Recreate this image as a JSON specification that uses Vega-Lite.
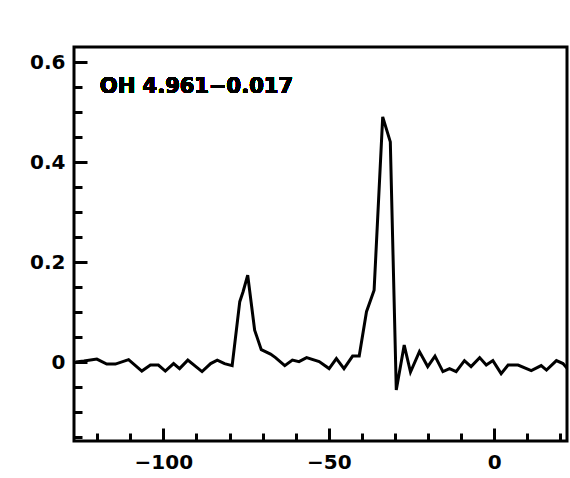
{
  "$schema": "https://vega.github.io/schema/vega-lite/v6.json",
  "autosize": {"type": "none"},
  "padding": {"left": 74, "top": 47, "right": 3, "bottom": 37},
  "width": 493,
  "height": 394,
  "background": "white",
  "view": {"stroke": "black", "strokeWidth": 3},
  "config": {
    "axis": {
      "grid": false,
      "domain": false,
      "tickColor": "black",
      "tickWidth": 3,
      "labelFont": "DejaVu Sans",
      "labelFontWeight": "bold",
      "labelFontSize": 20,
      "labelColor": "black",
      "title": null
    }
  },
  "data": {
    "values": [
      {"v": -126.5, "t": 0.0},
      {"v": -124, "t": 0.002},
      {"v": -120.1, "t": 0.006},
      {"v": -117.1, "t": -0.004},
      {"v": -114.5, "t": -0.004},
      {"v": -110.5, "t": 0.005},
      {"v": -106.5, "t": -0.018},
      {"v": -103.9, "t": -0.006},
      {"v": -101.5, "t": -0.006},
      {"v": -99.4, "t": -0.018},
      {"v": -96.9, "t": -0.003},
      {"v": -95.1, "t": -0.013},
      {"v": -92.6, "t": 0.004},
      {"v": -88.3, "t": -0.019},
      {"v": -85.7, "t": -0.003},
      {"v": -83.7, "t": 0.004},
      {"v": -81.5, "t": -0.003},
      {"v": -79.2, "t": -0.007},
      {"v": -76.9, "t": 0.121},
      {"v": -75.9, "t": 0.141},
      {"v": -74.5, "t": 0.174},
      {"v": -72.4, "t": 0.064},
      {"v": -70.4, "t": 0.025},
      {"v": -67.6, "t": 0.016},
      {"v": -66.1, "t": 0.009},
      {"v": -63.3, "t": -0.007},
      {"v": -61, "t": 0.004},
      {"v": -59, "t": 0.001},
      {"v": -56.7, "t": 0.009},
      {"v": -52.9, "t": 0.001},
      {"v": -49.9, "t": -0.013},
      {"v": -47.7, "t": 0.007},
      {"v": -45.4, "t": -0.013},
      {"v": -42.8, "t": 0.012},
      {"v": -40.8, "t": 0.012},
      {"v": -38.6, "t": 0.101},
      {"v": -36.3, "t": 0.144},
      {"v": -33.7, "t": 0.491},
      {"v": -31.4, "t": 0.441},
      {"v": -29.6, "t": -0.056},
      {"v": -27.2, "t": 0.034},
      {"v": -25.3, "t": -0.02},
      {"v": -22.6, "t": 0.021},
      {"v": -20.1, "t": -0.009},
      {"v": -17.9, "t": 0.012},
      {"v": -15.5, "t": -0.019},
      {"v": -13.5, "t": -0.013},
      {"v": -11.5, "t": -0.019},
      {"v": -9, "t": 0.003},
      {"v": -7, "t": -0.009},
      {"v": -4.4, "t": 0.009},
      {"v": -2.4, "t": -0.006},
      {"v": -0.4, "t": 0.003},
      {"v": 2.1, "t": -0.023},
      {"v": 4.2, "t": -0.006},
      {"v": 7.2, "t": -0.006},
      {"v": 11.2, "t": -0.017},
      {"v": 14.2, "t": -0.007},
      {"v": 15.8, "t": -0.016},
      {"v": 18.8, "t": 0.003},
      {"v": 20.8, "t": -0.003},
      {"v": 22.5, "t": -0.016}
    ]
  },
  "layer": [
    {
      "mark": {"type": "line", "color": "black", "strokeWidth": 3, "clip": true},
      "encoding": {
        "x": {
          "field": "v", "type": "quantitative",
          "scale": {"domain": [-127, 22], "nice": false, "zero": false},
          "axis": {"orient": "bottom", "values": [-100, -50, 0], "tickSize": -13, "labelPadding": 24, "format": "d"}
        },
        "y": {
          "field": "t", "type": "quantitative",
          "scale": {"domain": [-0.158, 0.631], "nice": false, "zero": false},
          "axis": {"orient": "left", "values": [0, 0.2, 0.4, 0.6], "tickSize": -13, "labelPadding": 22, "format": "~g"}
        }
      }
    },
    {
      "mark": {"type": "line", "opacity": 0},
      "encoding": {
        "x": {
          "field": "v", "type": "quantitative",
          "axis": {"orient": "bottom", "values": [-120, -110, -100, -90, -80, -70, -60, -50, -40, -30, -20, -10, 0, 10, 20], "tickSize": -8, "labels": false}
        },
        "y": {
          "field": "t", "type": "quantitative",
          "axis": {"orient": "left", "values": [-0.15, -0.1, -0.05, 0, 0.05, 0.1, 0.15, 0.2, 0.25, 0.3, 0.35, 0.4, 0.45, 0.5, 0.55, 0.6], "tickSize": -8, "labels": false}
        }
      }
    },
    {
      "mark": {"type": "text", "text": "OH 4.961−0.017", "font": "DejaVu Sans", "fontWeight": "bold", "fontSize": 21, "align": "left", "baseline": "alphabetic", "color": "black"},
      "encoding": {
        "x": {"datum": -119.2, "type": "quantitative", "axis": null},
        "y": {"datum": 0.538, "type": "quantitative", "axis": null}
      }
    }
  ],
  "resolve": {"axis": {"x": "independent", "y": "independent"}}
}
